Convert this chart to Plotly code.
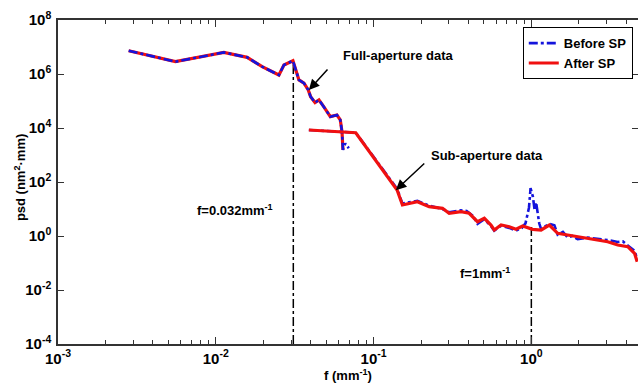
import numpy as np
import plotly.graph_objects as go

# ---------------- data ----------------
# full-aperture data (Before SP, blue)
full_f_before = [0.002805, 0.005546, 0.01125, 0.01581, 0.01968, 0.02512, 0.02704, 0.03083,
                 0.03365, 0.03622, 0.03855, 0.03990, 0.04256, 0.04508, 0.04831, 0.05321,
                 0.05861, 0.06152, 0.06310, 0.06397, 0.06622, 0.06966]
full_psd_before = [7.29e6, 2.86e6, 6.31e6, 4.14e6, 1.86e6, 9.18e5, 2.15e6, 3.09e6,
                   6.03e5, 4.57e5, 2.57e5, 1.45e5, 8.71e4, 1.10e5, 6.17e4, 2.63e4,
                   3.02e4, 2.00e4, 7.24e3, 1.55e3, 2.69e3, 1.78e3]
# full-aperture data (After SP, red)
full_f_after = [0.002805, 0.005546, 0.01125, 0.01581, 0.01968, 0.02512, 0.02704, 0.03083,
                0.03365, 0.03622, 0.03855, 0.03990, 0.04256, 0.04508, 0.04831, 0.05321,
                0.05861, 0.06152, 0.06310, 0.06397]
full_psd_after = [7.29e6, 2.86e6, 6.31e6, 4.14e6, 1.86e6, 9.18e5, 2.15e6, 3.09e6,
                  6.03e5, 4.57e5, 2.57e5, 1.45e5, 8.71e4, 1.10e5, 6.17e4, 2.63e4,
                  3.02e4, 2.00e4, 7.24e3, 1.55e3]

# sub-aperture data (After SP, red)
sub_f_after = [0.0389, 0.0771, 0.141, 0.1524, 0.1897, 0.2249, 0.2735, 0.3013, 0.3581,
               0.4036, 0.4560, 0.5035, 0.5546, 0.5821, 0.6427, 0.7244, 0.7998, 0.8810,
               1.019, 1.153, 1.300, 1.469, 1.698, 1.968, 2.275, 2.636, 3.048, 3.532,
               4.083, 4.508, 4.688]
sub_psd_after = [8430, 6700, 50.6, 14.1, 18.6, 12.2, 10.6, 6.93, 7.94,
                 6.93, 3.39, 4.53, 2.55, 1.67, 2.55, 2.21, 1.77, 2.34,
                 1.77, 1.67, 2.55, 1.26, 1.09, 0.942, 0.822, 0.711, 0.615, 0.465,
                 0.402, 0.229, 0.112]

# sub-aperture data (Before SP, blue)
sub_f_before = [0.0389, 0.0771, 0.141, 0.1524, 0.1679, 0.1897, 0.2249, 0.2735, 0.3013,
                0.3581, 0.3890, 0.4266, 0.4560, 0.5035, 0.5546, 0.5821, 0.6427, 0.7244,
                0.7998, 0.8710, 0.9183, 0.9661, 0.9886, 1.0233, 1.0471, 1.0715, 1.1220,
                1.153, 1.2162, 1.300, 1.400, 1.469, 1.585, 1.698, 1.820, 1.968, 2.275,
                2.636, 3.048, 3.532, 3.802, 4.083, 4.508, 4.688]
sub_psd_before = [8430, 6700, 56.2, 15.8, 17.8, 20.0, 13.2, 10.0, 7.59,
                  8.91, 8.51, 5.62, 2.82, 4.17, 2.34, 1.58, 2.40, 2.00,
                  1.58, 2.00, 2.95, 11.2, 58.9, 28.2, 10.0, 17.8, 2.95,
                  1.78, 2.24, 2.82, 2.51, 1.12, 1.41, 0.891, 1.00, 0.759, 0.871,
                  0.794, 0.708, 0.603, 0.631, 0.447, 0.282, 0.141]

# vertical marker lines
mark_f = [0.031, 1.0]
mark_top = [3.0e6, 2.3]
psd_bottom = 1e-4

# tick labels
x_tick_exp = [-3, -2, -1, 0]
x_tick_labels = ["10<sup>-3</sup>", "10<sup>-2</sup>", "10<sup>-1</sup>", "10<sup>0</sup>"]
y_tick_exp = [-4, -2, 0, 2, 4, 6, 8]
y_tick_labels = ["10<sup>-4</sup>", "10<sup>-2</sup>", "10<sup>0</sup>", "10<sup>2</sup>",
                 "10<sup>4</sup>", "10<sup>6</sup>", "10<sup>8</sup>"]

# ---------------- figure ----------------
BLUE = "#1414dc"
RED = "#f01010"
FONT = "Liberation Sans"
TICKFONT = "Liberation Sans Narrow, Liberation Sans"

fig = go.Figure()

# vertical dash-dot lines
for fx, top in zip(mark_f, mark_top):
    fig.add_trace(go.Scatter(x=[fx, fx], y=[psd_bottom, top], mode="lines",
                             line=dict(color="black", width=1.5, dash="dashdot"),
                             showlegend=False, hoverinfo="skip"))

fig.add_trace(go.Scatter(x=full_f_after, y=full_psd_after, mode="lines",
                         line=dict(color=RED, width=3.2), showlegend=False))
fig.add_trace(go.Scatter(x=full_f_before, y=full_psd_before, mode="lines", name="Before SP",
                         line=dict(color=BLUE, width=2.6, dash="dashdot"), legendrank=1))
fig.add_trace(go.Scatter(x=sub_f_before, y=sub_psd_before, mode="lines",
                         line=dict(color=BLUE, width=2.6, dash="dashdot"), showlegend=False))
fig.add_trace(go.Scatter(x=sub_f_after, y=sub_psd_after, mode="lines", name="After SP",
                         line=dict(color=RED, width=3.2), legendrank=2))

bold = dict(family=FONT, size=13, color="black", weight="bold")
tickbold = dict(family=TICKFONT, size=15, color="black", weight="bold")

annotations = [
    dict(x=np.log10(0.0389), y=np.log10(2.57e5), ax=20, ay=-22, showarrow=True,
         arrowhead=2, arrowsize=1.4, arrowwidth=1.5, arrowcolor="black", text=""),
    dict(x=np.log10(0.1383), y=np.log10(50.0), ax=30, ay=-28, showarrow=True,
         arrowhead=2, arrowsize=1.4, arrowwidth=1.5, arrowcolor="black", text=""),
    dict(x=np.log10(0.143), y=np.log10(5.0e6), text="Full-aperture data", showarrow=False,
         font=bold, xanchor="center", yanchor="middle"),
    dict(x=np.log10(0.526), y=np.log10(1.0e3), text="Sub-aperture data", showarrow=False,
         font=bold, xanchor="center", yanchor="middle"),
    dict(x=np.log10(0.01325), y=np.log10(9.2), text="f=0.032mm<sup>-1</sup>", showarrow=False,
         font=bold, xanchor="center", yanchor="middle"),
    dict(x=np.log10(0.51), y=np.log10(0.043), text="f=1mm<sup>-1</sup>", showarrow=False,
         font=bold, xanchor="center", yanchor="middle"),
    # y-axis title
    dict(x=-0.0655, y=0.512, xref="paper", yref="paper", text="psd (nm<sup>2</sup>·mm)",
         textangle=-90, showarrow=False, font=bold, xanchor="center", yanchor="middle"),
]

minor_x = [m * 10.0 ** k for k in range(-3, 1) for m in range(2, 10)]

fig.update_layout(
    width=638, height=387,
    margin=dict(l=58, r=0, t=20, b=43, autoexpand=False),
    paper_bgcolor="white", plot_bgcolor="white",
    font=bold,
    showlegend=True,
    legend=dict(x=0.991, y=0.978, xanchor="right", yanchor="top",
                bgcolor="white", bordercolor="black", borderwidth=1,
                font=dict(family=FONT, size=13, color="black", weight="bold"),
                tracegroupgap=0, itemwidth=30),
    annotations=annotations,
)

fig.update_xaxes(
    type="log", range=[-3, 0.676], showgrid=False, zeroline=False, automargin=False,
    showline=True, linecolor="#333", linewidth=1.5, mirror="ticks",
    ticks="inside", ticklen=7, tickcolor="#333",
    tickmode="array", tickvals=[10.0 ** e for e in x_tick_exp], ticktext=x_tick_labels,
    tickfont=tickbold,
    minor=dict(ticks="inside", ticklen=4, tickcolor="#333", showgrid=False,
               tickmode="array", tickvals=minor_x),
    title=dict(text="f (mm<sup>-1</sup>)", font=bold, standoff=4),
)
fig.update_yaxes(
    type="log", range=[-4, 8], showgrid=False, zeroline=False, automargin=False,
    showline=True, linecolor="#333", linewidth=1.5, mirror="ticks",
    ticks="inside", ticklen=6, tickcolor="#333",
    tickmode="array", tickvals=[10.0 ** e for e in y_tick_exp], ticktext=y_tick_labels,
    tickfont=tickbold, ticklabelstandoff=2,
)

fig.write_html("out.html", config={"displayModeBar": False},
               post_script="document.body.style.margin='0';document.body.style.overflow='hidden';")
